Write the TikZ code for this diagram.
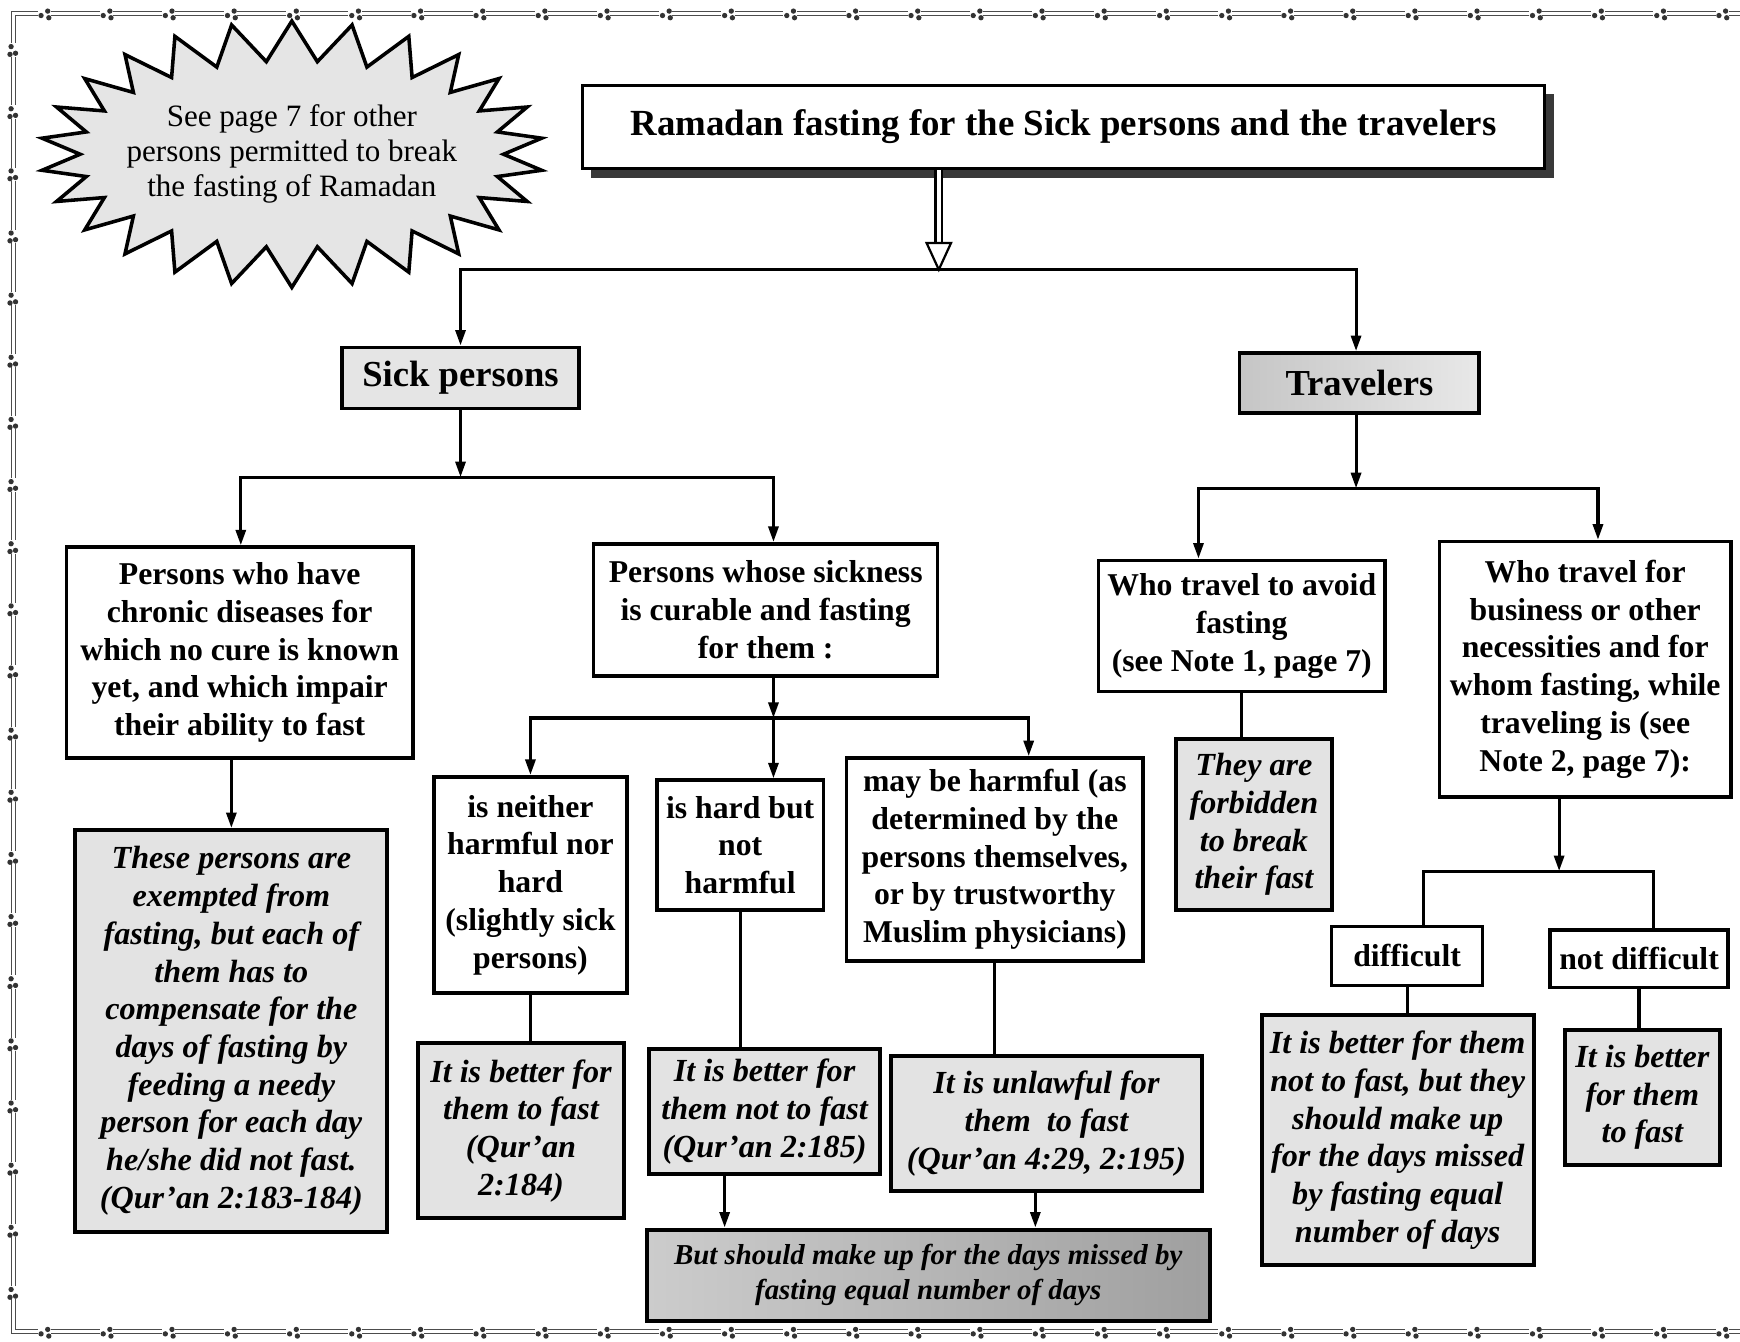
\documentclass[tikz,border=0pt]{standalone}
\usepackage{fontspec}
\setmainfont{Liberation Serif}
\usepackage{tikz}
\usetikzlibrary{arrows.meta,shapes.symbols,shadows}
\newcommand{\qfont}{\fontsize{14.3}{17}\selectfont\bfseries}
\newcommand{\afont}{\fontsize{14.5}{17}\selectfont\bfseries\itshape}
\newcommand{\hfont}{\fontsize{16.5}{19}\selectfont\bfseries}
\newcommand{\tfont}{\fontsize{16.6}{19}\selectfont\bfseries}
\newcommand{\nfont}{\fontsize{14}{15.75}\selectfont}
\newcommand{\mfont}{\fontsize{13}{16}\selectfont\bfseries\itshape}
\tikzset{
  qbox/.style={draw, line width=1.6pt, fill=white, align=center, inner sep=2pt, font=\qfont},
  abox/.style={draw, line width=1.8pt, fill=gray!22, align=center, inner sep=2pt, font=\afont},
  head/.style={qbox, fill=gray!20, font=\hfont},
  burst/.style={starburst, starburst points=26, starburst point height=18pt, random starburst=0,
    draw, line width=1.6pt, fill=gray!20, align=center, font=\nfont, inner xsep=-7pt, inner ysep=0pt},
  arr/.style={-{Triangle[length=7pt,width=4.5pt]}, line width=1.4pt},
  link/.style={line width=1.4pt},
  dblshaft/.style={draw=black, double=white, double distance=2pt, line width=1pt},
  openhead/.style={line width=1pt, fill=white, line join=miter},
  frame/.style={draw=gray!60!black, double=white, double distance=1.4pt, line width=0.5pt}
}

\begin{document}
\begin{tikzpicture}[x=0.5pt,y=-0.5pt]
  \useasboundingbox (0,0) rectangle (1568,1209);
  % page frame with little dot clusters
  \draw[frame] (1568,12) -- (12,12) -- (12,1200) -- (1568,1200);
  \foreach \x in {40,96,...,1560} {
    \fill[white] (\x-6,6) rectangle (\x+6,18);
    \fill[gray!40!black] (\x-3,14) circle (1.2pt) (\x+3,10) circle (1.2pt) (\x+4,16) circle (1.2pt);
    \fill[white] (\x-6,1194) rectangle (\x+6,1206);
    \fill[gray!40!black] (\x-3,1202) circle (1.2pt) (\x+3,1198) circle (1.2pt) (\x+4,1204) circle (1.2pt);
  }
  \foreach \y in {45,101,...,1180} {
    \fill[white] (6,\y-6) rectangle (18,\y+6);
    \fill[gray!40!black] (10,\y-3) circle (1.2pt) (14,\y+3) circle (1.2pt) (9,\y+4) circle (1.2pt);
  }

  % note and title
  \node[burst, minimum width=200pt, minimum height=120pt] (note) at (263,139)
    {See page 7 for other\\persons permitted to break\\the fasting of Ramadan};
  \node[qbox, font=\tfont, minimum width=433.5pt, minimum height=37.5pt,
    drop shadow={shadow xshift=4pt, shadow yshift=-4pt, fill=gray!45!black, opacity=1}] (title)
    at (958.5,114.5) {Ramadan fasting for the Sick persons and the travelers};

  % two groups
  \node[head, minimum width=107pt, minimum height=27.5pt] (sick) at (415,340.5) {Sick persons};
  \node[head, left color=gray!45, right color=gray!18, minimum width=108pt, minimum height=27pt] (trav)
    at (1225,345) {Travelers};

  % sick persons
  \node[qbox, minimum width=156pt, minimum height=95pt] (chronic) at (216,588)
    {Persons who have\\chronic diseases for\\which no cure is known\\yet, and which impair\\their ability to fast};
  \node[qbox, minimum width=155pt, minimum height=59.5pt] (curable) at (690,549.5)
    {Persons whose sickness\\is curable and fasting\\for them :};
  \node[abox, minimum width=140.5pt, minimum height=181pt] (exempt) at (208.5,929)
    {These persons are\\exempted from\\fasting, but each of\\them has to\\compensate for the\\days of fasting by\\feeding a needy\\person for each day\\he/she did not fast.\\(Qur’an 2:183-184)};
  \node[qbox, minimum width=87pt, minimum height=97.5pt] (neither) at (478,797.5)
    {is neither\\harmful nor\\hard\\(slightly sick\\persons)};
  \node[qbox, minimum width=75pt, minimum height=58.5pt] (hard) at (667,761.5)
    {is hard but\\not\\harmful};
  \node[qbox, minimum width=133.5pt, minimum height=91.5pt] (harmful) at (896.5,774.5)
    {may be harmful (as\\determined by the\\persons themselves,\\or by trustworthy\\Muslim physicians)};
  \node[abox, minimum width=92.5pt, minimum height=79pt] (fastok) at (469.5,1019)
    {It is better for\\them to fast\\(Qur’an\\2:184)};
  \node[abox, minimum width=104pt, minimum height=56.5pt] (nofast) at (689,1001.5)
    {It is better for\\them not to fast\\(Qur’an 2:185)};
  \node[abox, minimum width=140pt, minimum height=60.5pt] (unlawful) at (943,1012.5)
    {It is unlawful for\\them \ to fast\\(Qur’an 4:29, 2:195)};
  \node[abox, font=\mfont, left color=gray!40, right color=gray!75, minimum width=253.5pt, minimum height=41pt] (makeup)
    at (836.5,1149) {But should make up for the days missed by\\fasting equal number of days};

  % travelers
  \node[qbox, minimum width=129pt, minimum height=59pt] (avoid) at (1119,564)
    {Who travel to avoid\\fasting\\(see Note 1, page 7)};
  \node[qbox, minimum width=131.5pt, minimum height=115pt] (business) at (1428.5,603)
    {Who travel for\\business or other\\necessities and for\\whom fasting, while\\traveling is (see\\Note 2, page 7):};
  \node[abox, minimum width=70pt, minimum height=77pt] (forbid) at (1130,743)
    {They are\\forbidden\\to break\\their fast};
  \node[qbox, minimum width=68pt, minimum height=26.5pt] (diff) at (1268,861.5) {difficult};
  \node[qbox, minimum width=80pt, minimum height=26pt] (notdiff) at (1477,864) {not difficult};
  \node[abox, minimum width=122.5pt, minimum height=112.5pt] (makeup2) at (1259.5,1027.5)
    {It is better for them\\not to fast, but they\\should make up\\for the days missed\\by fasting equal\\number of days};
  \node[abox, minimum width=70pt, minimum height=61pt] (fastok2) at (1480,989)
    {It is better\\for them\\to fast};

  % branching points
  \coordinate (j0) at (846,243);
  \coordinate (j1) at (415,430);
  \coordinate (j1l) at (217,430);
  \coordinate (j1r) at (697,430);
  \coordinate (j2) at (1222,440);
  \coordinate (j2l) at (1080,440);
  \coordinate (j2r) at (1440,440);
  \coordinate (j3) at (697,647);
  \coordinate (j3r) at (927,647);
  \coordinate (j4) at (1405,785);
  \coordinate (j4l) at (1283,785);
  \coordinate (j4r) at (1490,785);
  \coordinate (m1) at (653,1108);
  \coordinate (m2) at (933,1108);

  % title arrow
  \draw[dblshaft] (title.south -| j0) -- ([yshift=12pt]j0);
  \draw[openhead] ([xshift=-5.5pt,yshift=12pt]j0) -- (j0) -- ([xshift=5.5pt,yshift=12pt]j0) -- cycle;
  \draw[arr] (j0) -| (sick);
  \draw[arr] (j0) -| (j2 |- trav.north);

  % sick persons connectors
  \draw[arr] (sick) -- (j1);
  \draw[arr] (j1) -| (j1l |- chronic.north);
  \draw[arr] (j1) -| (j1r |- curable.north);
  \draw[arr] (chronic.south -| exempt) -- (exempt);
  \draw[arr] (curable.south -| j3) -- (j3);
  \draw[arr] (j3) -| (neither);
  \draw[arr] (j3) -- (j3 |- hard.north);
  \draw[arr] (j3) -| (j3r |- harmful.north);
  \draw[link] (neither) -- (neither |- fastok.north);
  \draw[link] (hard) -- (hard |- nofast.north);
  \draw[link] (harmful) -- (harmful |- unlawful.north);
  \draw[arr] (nofast.south -| m1) -- (m1 |- makeup.north);
  \draw[arr] (unlawful.south -| m2) -- (m2 |- makeup.north);

  % travelers connectors
  \draw[arr] (trav.south -| j2) -- (j2);
  \draw[arr] (j2) -| (j2l |- avoid.north);
  \draw[arr] (j2) -| (j2r |- business.north);
  \draw[link] (avoid) -- (avoid |- forbid.north);
  \draw[arr] (business.south -| j4) -- (j4);
  \draw[link] (j4) -| (j4l |- diff.north);
  \draw[link] (j4) -| (j4r |- notdiff.north);
  \draw[link] (diff) -- (diff |- makeup2.north);
  \draw[link] (notdiff) -- (notdiff |- fastok2.north);
\end{tikzpicture}
\end{document}
